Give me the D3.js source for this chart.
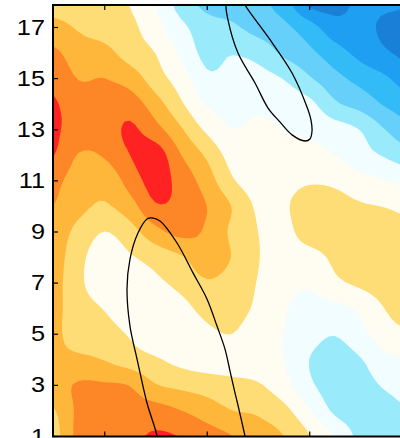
<!DOCTYPE html>
<html>
<head>
<meta charset="utf-8">
<script src="https://d3js.org/d3.v7.min.js"></script>
<style>
  body { margin: 0; background: #fff; }
  .tick text { font-family: "Liberation Sans", Arial, sans-serif; font-size: 22px; fill: #000; }
  .domain { display: none; }
  .tick line { stroke: #000; stroke-width: 1.2; }
</style>
</head>
<body>
<script>
// grid positions of the field (axis units)
var xGrid = [0.5, 0.75, 1, 1.25, 1.5, 1.75, 2, 2.25, 2.5, 2.75, 3, 3.25, 3.5, 3.75, 4];
var yGrid = [1, 2, 3, 4, 5, 6, 7, 8, 9, 10, 11, 12, 13, 14, 15, 16, 17, 18];

// field values, one row per yGrid entry (bottom row first)
var field = [
  [1.6, 3.3, 3.6, 3.8, 4.1, 3.95, 3.4, 3.0, 2.4, 2.0, 1.05, -0.05, -1.3, -1.7, -1.8],      // y=1
  [1.9, 3.2, 3.5, 3.4, 3.4, 3.0, 2.5, 2.0, 1.85, 1.3, 0.1, -1.2, -1.6, -1.4, -1.0],         // y=2
  [2.6, 3.1, 3.1, 2.95, 2.05, 1.75, 1.54, 1.29, 1.1, 0.35, -0.8, -1.5, -1.4, -0.85, -0.55], // y=3
  [2.2, 2.2, 1.95, 1.45, 1.1, 0.7, 0.5, 0.5, 0.3, 0.0, -1.0, -1.4, -1.05, -0.2, -0.15],     // y=4
  [2.25, 1.5, 1.45, 0.9, 0.4, 0.35, 0.8, 1.0, 0.4, 0.0, -0.6, -0.95, -0.3, 0.6, 0.9],       // y=5
  [2.3, 1.4, 0.95, 0.3, 0.3, 0.7, 1.3, 1.4, 0.8, 0.1, -0.3, -0.25, 0.2, 1.05, 1.4],         // y=6
  [2.4, 1.2, 0.5, 0.4, 0.8, 1.3, 1.9, 1.6, 0.95, 0.3, 0.15, 0.8, 1.2, 1.5, 1.6],            // y=7
  [2.5, 1.3, 0.5, 0.9, 1.4, 1.9, 2.6, 1.95, 1.05, 0.5, 0.6, 1.2, 1.5, 1.6, 1.65],           // y=8
  [2.6, 1.7, 1.0, 1.6, 2.7, 3.3, 2.85, 1.8, 1.0, 0.7, 1.5, 1.6, 1.5, 1.4, 1.3],             // y=9
  [3.0, 2.3, 1.9, 2.6, 3.9, 3.7, 3.0, 1.95, 0.85, 0.9, 1.4, 1.35, 1.1, 0.95, 0.7],          // y=10
  [3.3, 2.5, 2.3, 3.4, 4.4, 3.6, 2.5, 1.1, 0.5, 0.7, 0.9, 0.8, 0.35, 0.0, -0.3],            // y=11
  [4.05, 2.95, 3.1, 4.0, 4.5, 3.0, 1.83, 0.6, 0.4, 0.3, 0.3, 0.0, -0.6, -1.15, -1.7],       // y=12
  [4.15, 3.6, 3.5, 4.15, 3.35, 2.1, 0.8, 0.02, 0.2, 0.0, -0.2, -0.55, -1.05, -2.05, -2.8],  // y=13
  [4.1, 3.5, 3.4, 3.5, 2.43, 1.13, -0.1, -0.35, -0.2, -0.4, -0.75, -1.85, -2.4, -3.15, -3.6], // y=14
  [3.74, 2.95, 3.0, 2.55, 1.45, 0.48, -0.8, -0.7, -0.66, -1.05, -1.9, -2.7, -3.35, -3.9, -4.6], // y=15
  [3.2, 2.45, 2.3, 1.55, 0.98, -0.2, -1.3, -1.05, -1.35, -2.2, -2.78, -3.59, -4.3, -4.9, -5.3], // y=16
  [2.3, 1.9, 1.55, 1.25, 0.35, -0.75, -1.6, -1.85, -2.4, -2.78, -3.6, -4.6, -4.7, -5.2, -5.4],  // y=17
  [1.6, 1.45, 1.25, 0.95, 0.0, -1.5, -2.3, -2.5, -2.8, -3.5, -5.3, -5.4, -4.8, -4.8, -4.9]      // y=18
];

var levels = [-5, -4, -3, -2, -1, 0, 1, 2, 3, 4];
var colors = ["#1a80d7", "#1e9ff1", "#33bbf8", "#66cffa", "#99ebfc", "#f2fdff",
              "#fffcf2", "#fedd77", "#feb73b", "#fd8626", "#fe2222"];

var yTicks = [1, 3, 5, 7, 9, 11, 13, 15, 17];
var xTicks = [1, 2, 3];

// black outline curves (axis units)
var upperLoop = [[2.246, 18.64], [2.188, 17.86], [2.207, 17.28], [2.305, 15.98], [2.471, 14.81],
                 [2.598, 13.83], [2.715, 13.28], [2.832, 12.78], [2.959, 12.54], [3.007, 12.62],
                 [3.027, 12.93], [3.017, 13.36], [2.978, 13.87], [2.832, 15.20], [2.598, 16.61],
                 [2.373, 17.86], [2.276, 18.64]];
var lowerLoop = [[1.544, 0.06], [1.515, 1.0], [1.417, 2.29], [1.320, 4.01], [1.251, 5.30],
                 [1.222, 6.75], [1.251, 7.92], [1.329, 8.94], [1.417, 9.49], [1.466, 9.53],
                 [1.544, 9.41], [1.710, 8.55], [1.866, 7.38], [2.002, 6.36], [2.100, 5.30],
                 [2.178, 4.40], [2.227, 3.54], [2.276, 2.68], [2.295, 2.37], [2.373, 1.0],
                 [2.422, 0.06]];

var width = 400, height = 438;
var plotLeft = 53, plotTop = 5, plotBottom = 436.5;

var x = d3.scaleLinear().domain([0.5, 3.9]).range([plotLeft, plotLeft + 3.4 * 102.5]);
var y = d3.scaleLinear().domain([1, 17.86]).range([436, plotTop]);

var svg = d3.select("body").append("svg")
    .attr("width", width)
    .attr("height", height);

svg.append("clipPath").attr("id", "plotclip")
    .append("rect")
    .attr("x", plotLeft).attr("y", plotTop)
    .attr("width", width - plotLeft + 20).attr("height", plotBottom - plotTop);

var plot = svg.append("g").attr("clip-path", "url(#plotclip)");

// lowest band as background
plot.append("rect")
    .attr("x", plotLeft).attr("y", plotTop)
    .attr("width", width - plotLeft + 20).attr("height", plotBottom - plotTop)
    .attr("fill", colors[0]);

// render-only smoothing: sample the field on a finer mesh with a cubic kernel,
// one cell of padding around it so the rings close outside the clip
var nx = xGrid.length, ny = yGrid.length;
var f = 5;
var NX = (nx + 1) * f + 1, NY = (ny + 1) * f + 1;

function at(i, j) {
    i = Math.min(nx - 1, Math.max(0, i));
    j = Math.min(ny - 1, Math.max(0, j));
    return field[j][i];
}
function cubic(p0, p1, p2, p3, t) {
    return 0.5 * (2 * p1 + (-p0 + p2) * t + (2 * p0 - 5 * p1 + 4 * p2 - p3) * t * t +
                  (-p0 + 3 * p1 - 3 * p2 + p3) * t * t * t);
}
function sample(u, v) {
    var i = Math.floor(u), j = Math.floor(v), tu = u - i, tv = v - j;
    var rows = [];
    for (var m = -1; m <= 2; m++) {
        rows.push(cubic(at(i - 1, j + m), at(i, j + m), at(i + 1, j + m), at(i + 2, j + m), tu));
    }
    return cubic(rows[0], rows[1], rows[2], rows[3], tv);
}

var values = new Array(NX * NY);
for (var b = 0; b < NY; b++) {
    for (var a = 0; a < NX; a++) {
        values[b * NX + a] = sample(-1 + a / f, -1 + b / f);
    }
}

var gx = d3.scaleLinear().domain([0, nx - 1]).range([xGrid[0], xGrid[nx - 1]]);
var gy = d3.scaleLinear().domain([0, ny - 1]).range([yGrid[0], yGrid[ny - 1]]);

var contours = d3.contours().size([NX, NY]).thresholds(levels)(values);

contours.forEach(function(c, k) {
    var d = "";
    c.coordinates.forEach(function(poly) {
        poly.forEach(function(ring) {
            d += "M" + ring.map(function(p) {
                var u = -1 + (p[0] - 0.5) / f, v = -1 + (p[1] - 0.5) / f;
                return x(gx(u)).toFixed(2) + "," + y(gy(v)).toFixed(2);
            }).join("L") + "Z";
        });
    });
    plot.append("path")
        .attr("d", d)
        .attr("fill", colors[k + 1]);
});

// black outlines
var loopLine = d3.line()
    .x(function(d) { return x(d[0]); })
    .y(function(d) { return y(d[1]); })
    .curve(d3.curveCatmullRomClosed.alpha(0.5));

[upperLoop, lowerLoop].forEach(function(loop) {
    plot.append("path")
        .attr("d", loopLine(loop))
        .attr("fill", "none")
        .attr("stroke", "#000")
        .attr("stroke-width", 1.3);
});

// axes
var yAxisG = svg.append("g")
    .attr("transform", "translate(" + plotLeft + ",0)")
    .call(d3.axisLeft(y).tickValues(yTicks).tickSize(-5).tickPadding(9));

// the reference digits are a little wider than Liberation Sans
yAxisG.selectAll(".tick text")
    .attr("x", 0)
    .attr("transform", "translate(-8,0) scale(1.15,1)");

svg.append("g")
    .attr("transform", "translate(0," + plotBottom + ")")
    .call(d3.axisBottom(x).tickValues(xTicks).tickSize(-5).tickFormat(""));

svg.append("g")
    .attr("transform", "translate(0," + plotTop + ")")
    .call(d3.axisTop(x).tickValues(xTicks).tickSize(-5).tickFormat(""));

// frame
svg.append("path")
    .attr("d", "M" + (width + 5) + "," + plotTop + "H" + plotLeft + "V" + plotBottom + "H" + (width + 5))
    .attr("fill", "none")
    .attr("stroke", "#000")
    .attr("stroke-width", 2);
</script>
</body>
</html>
